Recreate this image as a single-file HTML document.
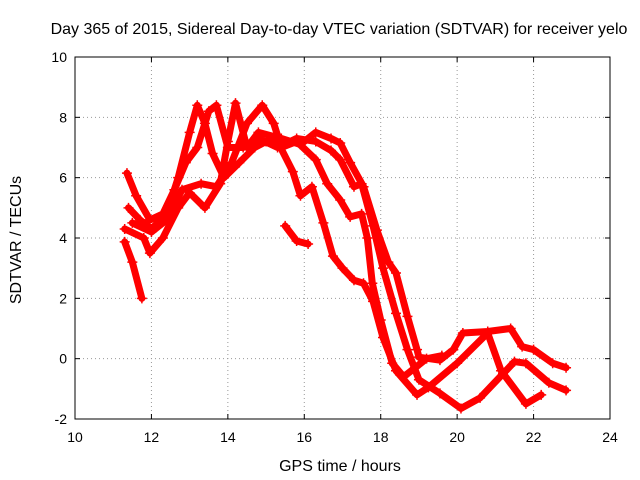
<!DOCTYPE html>
<html><head><meta charset="utf-8"><style>
body{margin:0;background:#fff;}
svg{display:block;font-family:"Liberation Sans",sans-serif;}
</style></head><body>
<svg id="chart" width="640" height="480" xmlns="http://www.w3.org/2000/svg">
<text x="339" y="34" text-anchor="middle" font-size="16">Day 365 of 2015, Sidereal Day-to-day VTEC variation (SDTVAR) for receiver yelo</text>
<text x="340" y="471" text-anchor="middle" font-size="16">GPS time / hours</text>
<text x="21" y="240" text-anchor="middle" font-size="16" transform="rotate(-90 21 240)">SDTVAR / TECUs</text>
<g id="grid"></g>
<g id="series"></g>
<rect x="75" y="57" width="535" height="362" fill="none" stroke="#000" stroke-width="1"/>
</svg>
<script>
const xTicks=[10,12,14,16,18,20,22,24];
const yTicks=[-2,0,2,4,6,8,10];
const s1=[[11.4,5.0],[11.7,4.6],[12.0,4.3],[12.4,4.8],[12.7,6.0],[13.0,7.5],[13.2,8.4],[13.4,7.8],[13.6,6.8],[13.9,6.0],[14.3,6.5],[14.7,7.0],[15.0,7.2],[15.3,7.2],[15.7,6.2],[15.9,5.4],[16.2,5.7],[16.5,4.5],[16.75,3.4],[17.0,3.0],[17.3,2.6],[17.55,2.5],[17.8,1.9],[18.06,0.7],[18.4,-0.4],[18.95,-1.2],[19.25,-0.95],[20.0,-0.15],[20.8,0.85],[21.15,-0.4],[21.8,-1.5],[22.2,-1.2]];
const s2=[[11.36,6.15],[11.6,5.4],[11.96,4.6],[12.3,4.8],[12.6,5.6],[12.9,6.5],[13.2,7.0],[13.5,8.2],[13.7,8.4],[14.0,7.0],[14.4,7.0],[14.8,7.3],[15.3,7.0],[15.8,7.3],[16.3,7.2],[16.7,6.9],[16.94,6.6],[17.3,5.7],[17.5,5.8],[17.8,4.4],[18.06,3.0],[18.4,1.5],[18.7,0.3],[19.0,-0.7],[19.55,-1.15],[20.1,-1.65],[20.6,-1.3],[21.2,-0.5],[21.5,-0.1],[21.8,-0.15],[22.4,-0.8],[22.85,-1.05]];
const s3=[[11.3,4.3],[11.8,4.0],[11.96,3.5],[12.3,4.0],[12.7,5.0],[13.0,5.5],[13.4,5.0],[13.8,5.8],[14.0,7.2],[14.2,8.47],[14.5,7.0],[14.8,7.5],[15.4,7.3],[15.9,7.1],[16.3,7.5],[16.7,7.3],[16.94,7.15],[17.2,6.5],[17.55,5.7],[17.9,4.26],[18.2,3.2],[18.4,2.84],[18.7,1.4],[18.95,0.3],[19.0,0.05],[19.55,-0.05],[19.9,0.3],[20.15,0.85],[20.8,0.9],[21.4,1.0],[21.7,0.4],[22.0,0.3],[22.5,-0.15],[22.85,-0.3]];
const s4=[[11.5,4.5],[12.0,4.2],[12.4,4.6],[12.8,5.6],[13.3,5.8],[13.7,5.7],[14.1,6.5],[14.5,7.8],[14.9,8.4],[15.2,7.8],[15.4,7.0],[15.8,7.2],[16.3,6.6],[16.6,5.8],[16.94,5.26],[17.2,4.7],[17.5,4.8],[17.65,4.0],[17.78,2.5],[18.0,1.28],[18.3,-0.15],[18.6,-0.6],[18.9,-0.3],[19.2,0.0],[19.6,0.1]];
const s5=[[11.3,3.87],[11.5,3.2],[11.75,2.0]];
const s6=[[15.5,4.4],[15.8,3.9],[16.1,3.8]];
const allSeries=[s1,s2,s3,s4,s5,s6];
const NS="http://www.w3.org/2000/svg";
const X0=75,X1=610,Y0=419,Y1=57;
function xs(v){return X0+(v-10)/(24-10)*(X1-X0);}
function ys(v){return Y0-(v+2)/(10+2)*(Y0-Y1);}
const grid=document.getElementById('grid');
function mk(tag,attrs,parent){const e=document.createElementNS(NS,tag);for(const k in attrs)e.setAttribute(k,attrs[k]);parent.appendChild(e);return e;}
xTicks.forEach(t=>{
  const x=xs(t);
  if(t>10&&t<24){const g=mk('line',{x1:x,x2:x,y1:Y0,y2:Y1,stroke:'#999','stroke-dasharray':'1,3'},grid);
  
  }
  const tk=mk('line',{x1:x,x2:x,y1:Y0,y2:Y0-5,stroke:'#000'},grid);
  
  
  const tk2=mk('line',{x1:x,x2:x,y1:Y1,y2:Y1+5,stroke:'#000'},grid);
  
  
  const l=mk('text',{x:x,y:Y0+23,'text-anchor':'middle','font-size':'14'},grid);l.textContent=t;
  
  
});
yTicks.forEach(t=>{
  const y=ys(t);
  if(t>-2&&t<10){const g=mk('line',{x1:X0,x2:X1,y1:y,y2:y,stroke:'#999','stroke-dasharray':'1,3'},grid);
  
  }
  const tk=mk('line',{x1:X0,x2:X0+5,y1:y,y2:y,stroke:'#000'},grid);
  
  
  const tk2=mk('line',{x1:X1,x2:X1-5,y1:y,y2:y,stroke:'#000'},grid);
  
  
  const l=mk('text',{x:X0-8,y:y+5,'text-anchor':'end','font-size':'14'},grid);l.textContent=t;
  
  
});
const sg=document.getElementById('series');
allSeries.forEach((s,i)=>{
  const p=mk('polyline',{points:s.map(d=>xs(d[0])+','+ys(d[1])).join(' '),fill:'none',stroke:'#f00','stroke-width':'7','stroke-linejoin':'round','stroke-linecap':'round'},sg);
  
  
  s.forEach(d=>{
    const x=xs(d[0]),y=ys(d[1]);
    const m=mk('path',{d:`M${x-5},${y}H${x+5}M${x},${y-5}V${y+5}`,stroke:'#f00','stroke-width':'1.5'},sg);
    
    
  });
});
</script>
</body></html>
